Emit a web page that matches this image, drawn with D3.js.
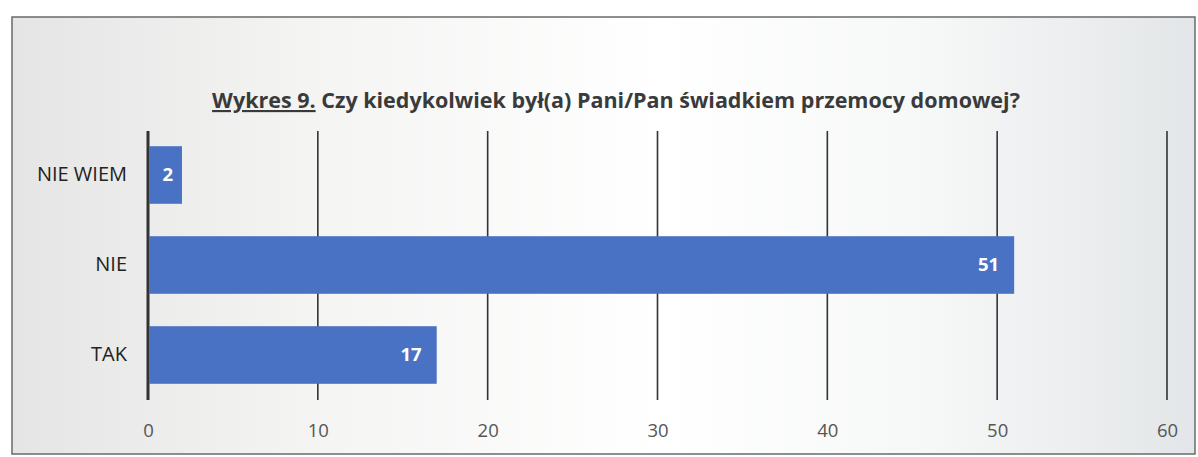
<!DOCTYPE html>
<meta charset="utf-8">
<head>
<style>
  body { margin: 0; background: #fff; }
  text { font-family: "Open Sans", "Noto Sans", sans-serif; }
</style>
</head>
<body>
<script src="https://d3js.org/d3.v7.js"></script>
<svg width="1198" height="457"></svg>
<script>
    // data
    var categories = ["NIE WIEM", "NIE", "TAK"];
    var values = [2, 51, 17];
    var ticks = [0, 10, 20, 30, 40, 50, 60];

    var svg = d3.select("svg");

    // background gradient of the scanned frame
    var grad = svg.append("defs").append("linearGradient")
        .attr("id", "bg").attr("x1", "0%").attr("x2", "100%");
    grad.append("stop").attr("offset", "0%").attr("stop-color", "#e4e5e4");
    grad.append("stop").attr("offset", "25%").attr("stop-color", "#f4f4f3");
    grad.append("stop").attr("offset", "55%").attr("stop-color", "#ffffff");
    grad.append("stop").attr("offset", "78%").attr("stop-color", "#f6f7f7");
    grad.append("stop").attr("offset", "100%").attr("stop-color", "#e3e6e8");

    svg.append("rect")
        .attr("x", 12).attr("y", 17)
        .attr("width", 1183).attr("height", 437)
        .attr("fill", "url(#bg)")
        .attr("stroke", "#6a6a6a").attr("stroke-width", 1.5);

    // title
    var title = svg.append("text")
        .attr("x", 616).attr("y", 108)
        .attr("text-anchor", "middle")
        .attr("font-size", "21.5px")
        .attr("font-weight", "bold")
        .attr("fill", "#3a3a3a");
    title.append("tspan").attr("text-decoration", "underline").text("Wykres 9.");
    title.append("tspan").text(" Czy kiedykolwiek był(a) Pani/Pan świadkiem przemocy domowej?");

    var xScale = d3.scaleLinear().domain([0, 60]).range([148, 1167]);
    var yScale = d3.scaleBand().domain(categories).range([130, 400]).paddingInner(0.36).paddingOuter(0.18);

    // gridlines
    svg.append("g")
        .selectAll("line")
        .data(ticks)
        .enter().append("line")
        .attr("x1", function (d) { return xScale(d); })
        .attr("x2", function (d) { return xScale(d); })
        .attr("y1", 131).attr("y2", 400)
        .attr("stroke", "#333")
        .attr("stroke-width", function (d) { return d === 0 ? 3 : 1.6; });

    // bars
    svg.append("g")
        .selectAll("rect")
        .data(values)
        .enter().append("rect")
        .attr("x", xScale(0) + 1)
        .attr("y", function (d, i) { return yScale(categories[i]); })
        .attr("width", function (d) { return xScale(d) - xScale(0) - 1; })
        .attr("height", yScale.bandwidth())
        .attr("fill", "#4a72c4");

    // value labels
    svg.append("g")
        .selectAll("text")
        .data(values)
        .enter().append("text")
        .attr("x", function (d) { return xScale(d) - (d < 5 ? 9 : 15); })
        .attr("y", function (d, i) { return yScale(categories[i]) + yScale.bandwidth() / 2; })
        .attr("dy", "0.35em")
        .attr("text-anchor", "end")
        .attr("font-size", "18.5px")
        .attr("font-weight", "bold")
        .attr("fill", "#fff")
        .text(function (d) { return d; });

    // x axis
    var xAxis = svg.append("g")
        .attr("transform", "translate(0,400)")
        .call(d3.axisBottom(xScale).tickValues(ticks).tickSize(0).tickPadding(24));
    xAxis.select(".domain").remove();
    xAxis.selectAll("text")
        .attr("font-size", "18.5px")
        .attr("fill", "#555");

    // y axis
    var yAxis = svg.append("g")
        .attr("transform", "translate(127,0)")
        .call(d3.axisLeft(yScale).tickSize(0).tickPadding(0));
    yAxis.select(".domain").remove();
    yAxis.selectAll("text")
        .attr("font-size", "20px")
        .attr("fill", "#222");
</script>
</body>
</html>
